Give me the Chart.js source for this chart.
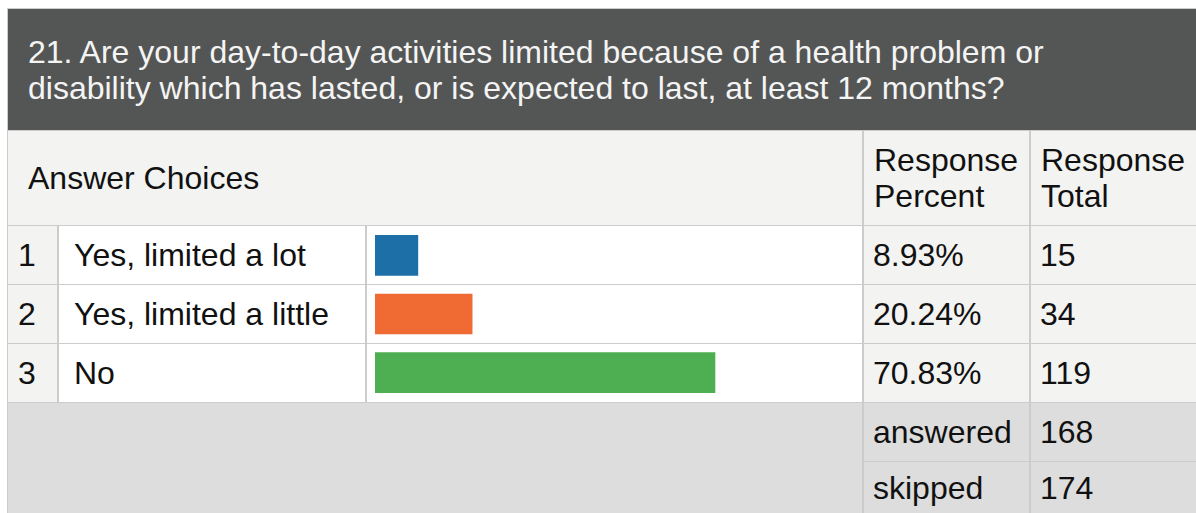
<!DOCTYPE html>
<html>
<head>
<meta charset="utf-8">
<script src="https://cdn.jsdelivr.net/npm/chart.js@4/dist/chart.umd.min.js"></script>
<style>
  html, body { margin: 0; padding: 0; background: #fff; }
  body { width: 1196px; height: 513px; position: relative; overflow: hidden;
         font-family: Arial, "Liberation Sans", sans-serif; color: #111; }
  .frame { position: absolute; left: 7px; top: 8px; width: 1189px; height: 505px; background: #cccccc; }
  .cell { position: absolute; box-sizing: border-box; display: flex; align-items: center;
          font-size: 32px; line-height: 36px; white-space: nowrap; }
  .light { background: #f3f3f2; }
  .white { background: #ffffff; }
  .foot { background: #dddddd; }
  #title { background: #545655; color: #f4f4f4; font-size: 32px; line-height: 36px;
           white-space: normal; padding-left: 20px; padding-right: 100px; }
  #chartBox { position: absolute; left: 367px; top: 226px; width: 495px; height: 176px; }
</style>
</head>
<body>
<div class="frame"></div>
<div id="cells"></div>
<div id="chartBox"><canvas id="surveyChart" width="495" height="176"></canvas></div>

<script>
// --- survey data ---
const questionText = "21. Are your day-to-day activities limited because of a health problem or disability which has lasted, or is expected to last, at least 12 months?";
const choiceLabels = ["Yes, limited a lot", "Yes, limited a little", "No"];
const choicePercents = [8.93, 20.24, 70.83];
const choiceTotals = [15, 34, 119];
const barColors = ["#1d70a7", "#f06a34", "#4daf51"];
const summaryLabels = ["answered", "skipped"];
const summaryValues = [168, 174];

// table layout (page px)
const cols = { c1: [8, 57], c2: [59, 365], c3: [367, 862], c4: [864, 1029], c5: [1031, 1196] };
const rowTops = [226, 285, 344];
const rowH = 58;

const cellsEl = document.getElementById("cells");
function addCell(x0, x1, y0, y1, cls, text, padLeft, id) {
    const d = document.createElement("div");
    d.className = "cell " + cls;
    if (id) d.id = id;
    d.style.left = x0 + "px";
    d.style.top = y0 + "px";
    d.style.width = (x1 - x0) + "px";
    d.style.height = (y1 - y0) + "px";
    if (padLeft != null) d.style.paddingLeft = padLeft + "px";
    d.textContent = text;
    cellsEl.appendChild(d);
    return d;
}

// title + header row
addCell(8, 1196, 9, 130, "", questionText, null, "title");
addCell(8, 862, 131, 225, "light", "Answer Choices", 20);
addCell(864, 1029, 131, 225, "light", "Response Percent", 10).style.whiteSpace = "normal";
addCell(1031, 1196, 131, 225, "light", "Response Total", 10).style.whiteSpace = "normal";

// answer rows
choiceLabels.forEach((label, i) => {
    const y0 = rowTops[i], y1 = y0 + rowH;
    addCell(cols.c1[0], cols.c1[1], y0, y1, "light", String(i + 1), 10);
    addCell(cols.c2[0], cols.c2[1], y0, y1, "white", label, 15);
    addCell(cols.c3[0], cols.c3[1], y0, y1, "white", "", 0);
    addCell(cols.c4[0], cols.c4[1], y0, y1, "light", choicePercents[i].toFixed(2) + "%", 9);
    addCell(cols.c5[0], cols.c5[1], y0, y1, "light", String(choiceTotals[i]), 9);
});

// summary footer
addCell(8, 862, 403, 513, "foot", "", 0);
addCell(cols.c4[0], cols.c4[1], 403, 461, "foot", summaryLabels[0], 9);
addCell(cols.c5[0], cols.c5[1], 403, 461, "foot", String(summaryValues[0]), 9);
addCell(cols.c4[0], cols.c4[1], 462, 513, "foot", summaryLabels[1], 9);
addCell(cols.c5[0], cols.c5[1], 462, 513, "foot", String(summaryValues[1]), 9);

// bars
new Chart(document.getElementById("surveyChart"), {
    type: "bar",
    data: {
        labels: choiceLabels,
        datasets: [{
            data: choicePercents,
            backgroundColor: barColors,
            borderWidth: 0,
            barThickness: 40
        }]
    },
    options: {
        indexAxis: "y",
        responsive: false,
        animation: false,
        layout: { padding: { left: 8, right: 7, top: 0, bottom: 0 } },
        plugins: { legend: { display: false }, tooltip: { enabled: false } },
        scales: {
            x: { display: false, min: 0, max: 100 },
            y: { display: false }
        }
    }
});
</script>
</body>
</html>
